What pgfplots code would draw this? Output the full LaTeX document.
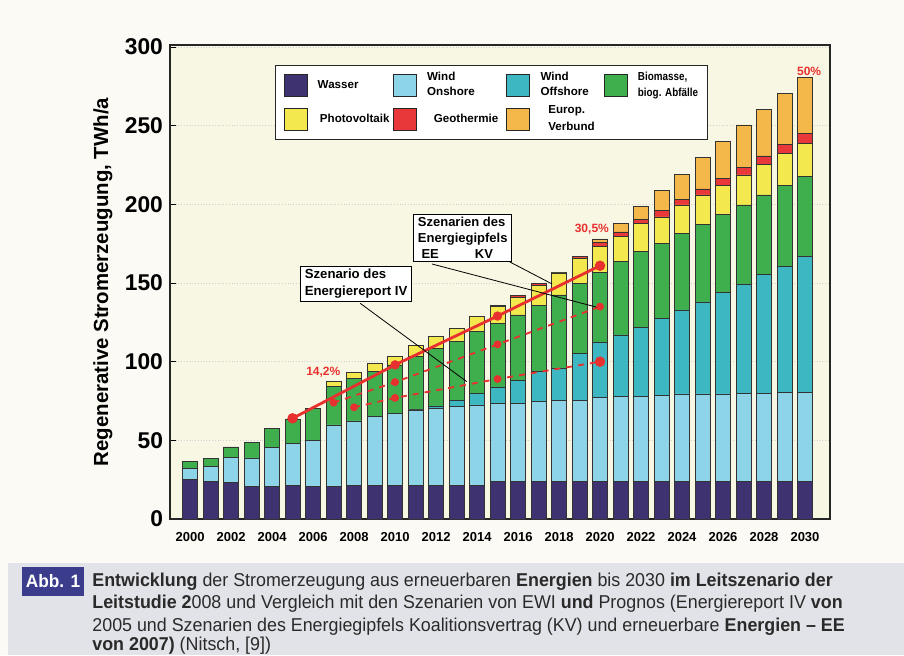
\documentclass[border=0pt]{standalone}
\usepackage{pgfplots}
\pgfplotsset{compat=1.18}
\usepackage{pgfplotstable}
\usepackage{fontspec}
\setmainfont{Liberation Sans}
\newfontfamily\capfont[FakeStretch=0.96]{Liberation Sans}
\definecolor{pagebg}{HTML}{FBFAF4}
\definecolor{plotbg}{HTML}{F8F7E3}
\definecolor{capbg}{HTML}{E2E3E8}
\definecolor{abbblue}{HTML}{3B3C8C}
\definecolor{cW}{HTML}{3E3270}
\definecolor{cOn}{HTML}{8ED4E8}
\definecolor{cOff}{HTML}{3DB8C2}
\definecolor{cBio}{HTML}{3FAE4C}
\definecolor{cPV}{HTML}{F3E84E}
\definecolor{cGeo}{HTML}{E8383A}
\definecolor{cEU}{HTML}{F4B84A}
\definecolor{cred}{HTML}{E8302E}
\definecolor{captxt}{HTML}{2A2A2A}

\pgfplotstableread{
year W On Off Bio PV Geo EU
2000 25.0 7.4 0 4.0 0 0 0
2001 23.7 9.5 0 5.5 0 0 0
2002 23.0 16.0 0 6.8 0 0 0
2003 20.5 18.3 0 9.7 0 0 0
2004 20.5 24.8 0 12.3 0 0 0
2005 21.6 26.5 0 15.3 0 0 0
2006 20.5 29.7 0 20.2 0 0 0
2007 20.5 39.3 0 24.3 3.2 0 0
2008 21.6 40.7 0 27.1 3.6 0 0
2009 21.6 43.4 0 28.6 5.4 0 0
2010 21.6 45.6 0 30.7 5.3 0 0
2011 21.6 47.7 0.5 33.4 7.4 0 0
2012 21.6 48.8 1.5 36.6 7.4 0 0
2013 21.6 49.8 4.2 37.1 8.5 0 0
2014 21.6 50.9 7.4 39.1 9.6 0 0
2015 23.7 50.0 10.3 40.5 10.5 1.0 0
2016 23.7 50.0 14.3 41.7 11.3 1.0 0
2017 23.7 50.9 19.1 42.3 12.7 0.8 0
2018 23.7 51.9 20.4 46.4 14.0 0.6 0
2019 23.7 51.9 29.9 44.5 16.0 1.0 0
2020 23.7 53.8 34.5 45.0 16.0 3.0 2.0
2021 23.7 54.0 39.3 46.6 15.9 3.0 5.5
2022 23.7 54.3 44.0 48.0 18.0 2.5 8.0
2023 23.7 55.1 48.8 47.7 16.7 4.4 12.3
2024 23.7 55.8 53.4 48.7 18.0 3.8 15.9
2025 23.7 55.8 58.5 49.5 18.5 3.8 20.2
2026 23.7 55.8 64.5 49.6 18.7 4.2 23.4
2027 23.7 56.1 69.4 50.4 19.1 4.8 27.0
2028 23.7 56.3 75.7 50.3 19.5 5.3 29.8
2029 23.7 56.8 80.3 51.5 20.2 5.7 32.4
2030 23.7 56.8 86.2 50.9 21.2 6.2 35.8
}\data

\pgfplotsset{
  commonaxis/.style={
    at={(85pt,68pt)}, anchor=south west,
    scale only axis, width=330pt, height=237pt,
    xmin=1999.02, xmax=2031.22, ymin=0, ymax=301.3,
  },
  barstyle/.style={fill=#1, draw=black!80, line width=0.35pt},
}

\begin{document}
\begin{tikzpicture}
\useasboundingbox (0pt,0pt) rectangle (452pt,327.5pt);
\fill[pagebg] (0pt,0pt) rectangle (452pt,327.5pt);
\fill[capbg] (4pt,0pt) rectangle (452pt,46pt);
\fill[abbblue] (11pt,29.5pt) rectangle (42pt,44pt);
\node[white, font=\capfont\fontsize{9}{10}\selectfont\bfseries] at (26.5pt,36.75pt) {Abb. 1};
\begin{scope}[every node/.style={anchor=base west, inner sep=0pt, text=captxt, font=\capfont\fontsize{9.3}{11}\selectfont}]
\node at (46pt,34.3pt) {\textbf{Entwicklung} der Stromerzeugung aus erneuerbaren \textbf{Energien} bis 2030 \textbf{im Leitszenario der}};
\node at (46pt,23.1pt) {\textbf{Leitstudie 2}008 und Vergleich mit den Szenarien von EWI \textbf{und} Prognos (Energiereport IV \textbf{von}};
\node at (46pt,12pt) {2005 und Szenarien des Energiegipfels Koalitionsvertrag (KV) und erneuerbare \textbf{Energien – EE}};
\node at (46pt,2.3pt) {\textbf{von 2007)} (Nitsch, [9])};
\end{scope}

\begin{axis}[commonaxis,
  ybar stacked, bar width=7.5pt,
  axis background/.style={fill=plotbg},
  axis line style={black!85, line width=0.6pt},
  xtick={2000,2002,...,2030},
  ytick={0,50,...,300},
  /pgf/number format/1000 sep={},
  /pgf/number format/assume math mode=true,
  tick pos=left,
  xtick style={draw=none},
  ytick style={black, line width=0.5pt},
  major tick length=3pt,
  ymajorgrids, grid style={black!18, densely dotted, line width=0.3pt},
  xticklabel style={font=\fontsize{6.5}{7}\selectfont\bfseries, yshift=-3pt},
  yticklabel style={font=\fontsize{11.4}{12}\selectfont\bfseries},
  ylabel={Regenerative Stromerzeugung, TWh/a},
  ylabel style={font=\fontsize{10.2}{12}\selectfont\bfseries, at={(axis description cs:-0.1015,0.5)}, anchor=center},
  legend columns=4,
  legend style={at={(axis description cs:0.159,0.958)}, anchor=north west,
    draw=black!85, line width=0.6pt, fill=white,
    font=\fontsize{5.8}{6.6}\selectfont\bfseries,
    nodes={inner sep=0.6pt},
    inner xsep=4pt, inner ysep=2.5pt, row sep=2pt,
    /tikz/every odd column/.append style={column sep=4.5pt}},
  legend image code/.code={\draw[#1,draw=black!85,line width=0.5pt] (0pt,-5.5pt) rectangle (11.5pt,5.5pt);},
]
\addplot[barstyle=cW] table[x=year,y=W]{\data};
\addlegendentry{\makebox[37pt][l]{Wasser}}
\addplot[barstyle=cOn] table[x=year,y=On]{\data};
\addlegendentry{\makebox[39pt][l]{\shortstack[l]{Wind\\Onshore}}}
\addplot[barstyle=cOff] table[x=year,y=Off]{\data};
\addlegendentry{\makebox[31pt][l]{\shortstack[l]{Wind\\Offshore}}}
\addplot[barstyle=cBio] table[x=year,y=Bio]{\data};
\addlegendentry{\scalebox{0.85}[1]{\shortstack[l]{Biomasse,\\biog. Abfälle}}}
\addplot[barstyle=cPV] table[x=year,y=PV]{\data};
\addlegendentry{Photovoltaik}
\addplot[barstyle=cGeo] table[x=year,y=Geo]{\data};
\addlegendentry{Geothermie}
\addplot[barstyle=cEU] table[x=year,y=EU]{\data};
\addlegendentry{\shortstack[l]{Europ.\\Verbund}}
\end{axis}

\begin{axis}[commonaxis, hide axis, clip=false]
\addplot[color=cred, line width=1.4pt, mark=*, mark size=1.6pt] coordinates {(2005,64) (2010,98) (2015,129) (2020,161)};
\addplot[color=cred, line width=0.9pt, dashed, mark=*, mark size=1.5pt, mark options={solid}] coordinates {(2007,74) (2010,87) (2015,111) (2020,135)};
\addplot[color=cred, line width=0.9pt, dashed, mark=*, mark size=1.5pt, mark options={solid}] coordinates {(2008,71) (2010,77) (2015,89) (2020,100)};
\addplot[only marks, color=cred, mark=*, mark size=2.4pt] coordinates {(2005,64) (2020,161) (2020,100)};
\draw[black, line width=0.4pt] (axis cs:2008.3,137.1) -- (axis cs:2013.5,87.3);
\draw[black, line width=0.4pt] (axis cs:2011.8,162.1) -- (axis cs:2020,134.1);
\draw[black, line width=0.4pt] (axis cs:2015.6,163.4) -- (axis cs:2017.66,149.4);
\node[draw=black, line width=0.5pt, fill=white, align=left, inner xsep=2.2pt, inner ysep=1.5pt,
  font=\fontsize{6.6}{8.5}\selectfont\bfseries] at (axis cs:2008.1,149.4) {Szenario des\\Energiereport IV};
\node[draw=black, line width=0.5pt, fill=white, align=left, inner xsep=2pt, inner ysep=1.5pt,
  font=\fontsize{6.5}{8}\selectfont\bfseries] at (axis cs:2013.3,178.6) {Szenarien des\\Energiegipfels\\\ EE\hspace{18pt}KV};
\node[text=cred, font=\fontsize{6}{7}\selectfont\bfseries] at (axis cs:2006.5,93.1) {14,2\%};
\node[text=cred, font=\fontsize{6}{7}\selectfont\bfseries] at (axis cs:2019.6,184.4) {30,5\%};
\node[text=cred, font=\fontsize{6}{7}\selectfont\bfseries] at (axis cs:2030.2,284.8) {50\%};
\end{axis}
\end{tikzpicture}
\end{document}
